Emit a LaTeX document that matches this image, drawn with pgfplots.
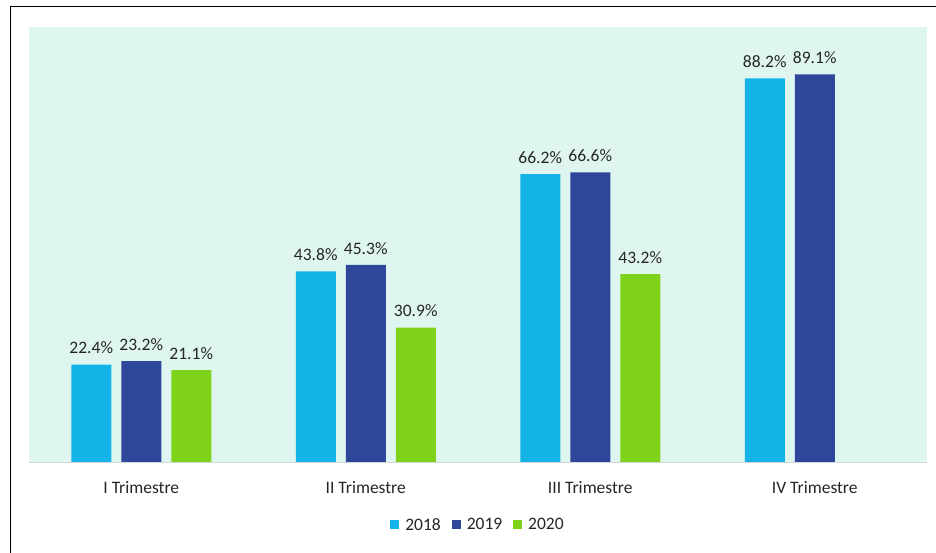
\documentclass[border=0pt]{standalone}
\usepackage{fontspec}
\setmainfont{Carlito}
\usepackage{pgfplots}
\pgfplotsset{compat=1.18}
\definecolor{c2018}{RGB}{18,180,232}
\definecolor{c2019}{RGB}{47,71,155}
\definecolor{c2020}{RGB}{126,211,26}
\definecolor{plotbg}{RGB}{223,245,240}
\definecolor{txt}{RGB}{38,38,38}
\definecolor{axisgray}{RGB}{210,214,214}
\newcommand\chartfont{\fontsize{17.5pt}{20pt}\selectfont}

\begin{document}
\begin{tikzpicture}
  \useasboundingbox (0pt,0pt) rectangle (936pt,552pt);
  \fill[white] (0pt,0pt) rectangle (936pt,552pt);
  \begin{axis}[
    at={(29pt,90pt)}, anchor=south west,
    width=898pt, height=435pt, scale only axis,
    ybar=10pt, bar width=40pt,
    xmin=-0.5, xmax=3.5, ymin=0, ymax=100,
    axis background/.style={fill=plotbg},
    axis line style={draw=none},
    ytick=\empty,
    xtick={0,1,2,3},
    xticklabels={I Trimestre, II Trimestre, III Trimestre, IV Trimestre},
    major tick length=0pt,
    tick label style={font=\chartfont, text=txt},
    xticklabel style={yshift=-16pt},
    /pgf/number format/assume math mode=true,
    nodes near coords={\pgfmathprintnumber[fixed,fixed zerofill,precision=1]{\pgfplotspointmeta}\%},
    every node near coord/.append style={font=\chartfont, text=txt, yshift=7pt},
    legend style={
      at={(0.5,-0.1448)}, anchor=center,
      draw=none, fill=none,
      legend columns=3,
      font=\chartfont, text=txt,
      /tikz/every odd column/.append style={column sep=4pt},
      /tikz/every even column/.append style={column sep=9pt},
    },
    legend image code/.code={\fill[#1,draw=none] (0pt,-4.5pt) rectangle (9pt,4.5pt);},
  ]
    \addplot[fill=c2018, draw=none] coordinates {(0,22.4) (1,43.8) (2,66.2) (3,88.2)};
    \addplot[fill=c2019, draw=none] coordinates {(0,23.2) (1,45.3) (2,66.6) (3,89.1)};
    \addplot[fill=c2020, draw=none] coordinates {(0,21.1) (1,30.9) (2,43.2)};
    \draw[axisgray, line width=1pt] (axis cs:-0.5,0) -- (axis cs:3.5,0);
    \legend{2018,2019,2020}
  \end{axis}
  \draw[line width=1.5pt] (10.5pt,-2pt) -- (10.5pt,545.5pt) -- (940pt,545.5pt);
\end{tikzpicture}
\end{document}
